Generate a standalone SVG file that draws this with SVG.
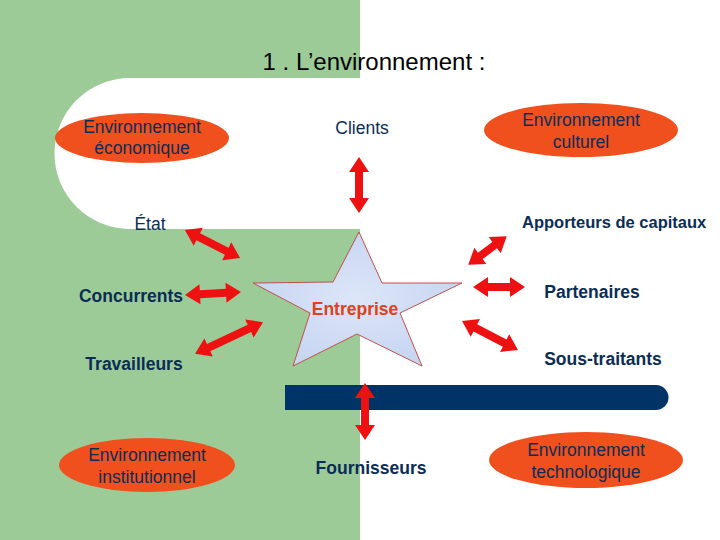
<svg xmlns="http://www.w3.org/2000/svg" width="720" height="540" viewBox="0 0 720 540">
<defs><style>
.t{font-family:"Liberation Sans",Arial,sans-serif;font-size:17.5px;fill:#0b2d55;text-anchor:middle}
.b{font-weight:bold}
.el{fill:#f0501e}
.ar{fill:#ee1111}
</style>
<radialGradient id="sg"><stop offset="0" stop-color="#dde6f8"/><stop offset="1" stop-color="#c8d6f2"/></radialGradient>
</defs>
<rect width="720" height="540" fill="#fff"/>
<rect x="0" y="0" width="360" height="540" fill="#9ccb98"/>
<path d="M130 78 H720 V229 H130 A75 75 0 0 1 130 78 Z" fill="#fff"/>
<path d="M285 385 H656 A12.5 12.5 0 0 1 656 410 H285 Z" fill="#003366"/>
<text x="374" y="70" style="font-family:'Liberation Sans',Arial,sans-serif;font-size:24px;text-anchor:middle" fill="#000">1 . L’environnement :</text>
<g id="star"><polygon points="359,232 382,283 462,283 400,313 422,366 357,334 293,366 310,313 253,283 333,282" fill="url(#sg)" stroke="#c0504d" stroke-width="1"/>
<text x="355" y="315" class="t b" style="fill:#e0401a">Entreprise</text></g>
<g id="eco"><ellipse cx="142" cy="138" rx="87" ry="25" class="el"/><text x="142" y="133" class="t">Environnement</text><text x="142" y="154" class="t">économique</text></g>
<g id="cult"><ellipse cx="581" cy="130" rx="97" ry="27" class="el"/><text x="581" y="126" class="t">Environnement</text><text x="581" y="148" class="t">culturel</text></g>
<g id="inst"><ellipse cx="147" cy="465" rx="88" ry="27" class="el"/><text x="147" y="461" class="t">Environnement</text><text x="147" y="483" class="t">institutionnel</text></g>
<g id="tech"><ellipse cx="586" cy="460" rx="97" ry="28" class="el"/><text x="586" y="456" class="t">Environnement</text><text x="586" y="478" class="t">technologique</text></g>
<g id="clients"><text x="362" y="134" class="t">Clients</text></g>
<g id="etat"><text x="150" y="230" class="t">État</text></g>
<g id="apport"><text x="522" y="228" class="t b" style="text-anchor:start;font-size:16.5px">Apporteurs de capitaux</text></g>
<g id="conc"><text x="131" y="302" class="t b">Concurrents</text></g>
<g id="part"><text x="592" y="298" class="t b">Partenaires</text></g>
<g id="trav"><text x="134" y="370" class="t b">Travailleurs</text></g>
<g id="sous"><text x="603" y="365" class="t b">Sous-traitants</text></g>
<g id="four"><text x="371" y="474" class="t b">Fournisseurs</text></g>
<g id="connectors" class="ar">
<path transform="translate(359,185) rotate(90)" d="M-28 0 L-13 -10 L-13 -4 L13 -4 L13 -10 L28 0 L13 10 L13 4 L-13 4 L-13 10Z"/>
<path transform="translate(212.5,244) rotate(27)" d="M-31 0 L-16 -10 L-16 -4 L16 -4 L16 -10 L31 0 L16 10 L16 4 L-16 4 L-16 10Z"/>
<path transform="translate(213,293.5) rotate(-3)" d="M-28 0 L-13 -10 L-13 -4 L13 -4 L13 -10 L28 0 L13 10 L13 4 L-13 4 L-13 10Z"/>
<path transform="translate(229,338) rotate(-25)" d="M-37.5 0 L-22.5 -10 L-22.5 -4 L22.5 -4 L22.5 -10 L37.5 0 L22.5 10 L22.5 4 L-22.5 4 L-22.5 10Z"/>
<path transform="translate(487.5,250.5) rotate(-36.6)" d="M-24 0 L-9 -10 L-9 -4 L9 -4 L9 -10 L24 0 L9 10 L9 4 L-9 4 L-9 10Z"/>
<path transform="translate(499,287)" d="M-26 0 L-11 -10 L-11 -4 L11 -4 L11 -10 L26 0 L11 10 L11 4 L-11 4 L-11 10Z"/>
<path transform="translate(490,335.5) rotate(27.4)" d="M-31.5 0 L-16.5 -10 L-16.5 -4 L16.5 -4 L16.5 -10 L31.5 0 L16.5 10 L16.5 4 L-16.5 4 L-16.5 10Z"/>
<path transform="translate(365,411.5) rotate(90)" d="M-28.5 0 L-13.5 -10 L-13.5 -4 L13.5 -4 L13.5 -10 L28.5 0 L13.5 10 L13.5 4 L-13.5 4 L-13.5 10Z"/>
</g>
</svg>
